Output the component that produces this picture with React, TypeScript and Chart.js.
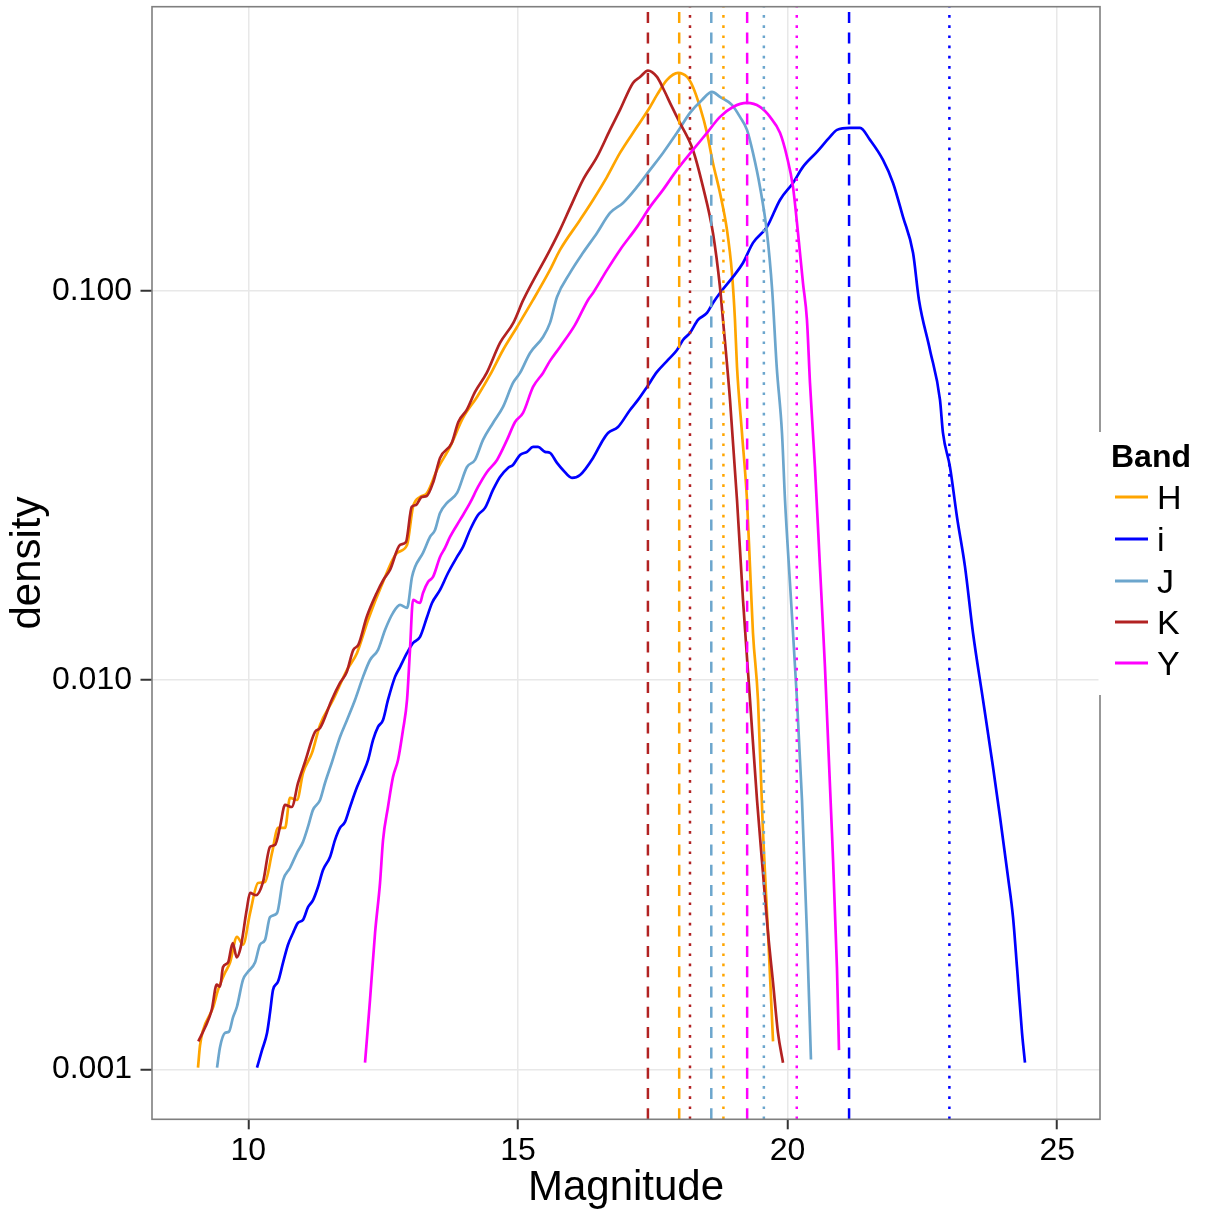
import React, { useEffect, useRef } from "react";
import { Chart, registerables } from "chart.js";

Chart.register(...registerables);

const FONT = "'Liberation Sans', Arial, Helvetica, sans-serif";

const bands = ["H", "i", "J", "K", "Y"];
const bandColors = ["#FFA500", "#0000FF", "#6CA6CD", "#B22222", "#FF00FF"];
// dashed and dotted reference marks per band (same order as bands)
const dashedMarks = [17.99, 21.14, 18.585, 17.41, 19.25];
const dottedMarks = [18.81, 23.0, 19.56, 18.19, 20.17];

const xTicks = [10, 15, 20, 25];
const yTicks = [0.001, 0.01, 0.1];
const yTickLabels = ["0.001", "0.010", "0.100"];
const xRange = [8.214, 25.793];
const yRange = [0.000744, 0.537];

const hCurve = [
  [9.067, 0.00101], [9.104, 0.00115], [9.16, 0.00126], [9.345, 0.00144], [9.439, 0.0016], [9.568, 0.00177],
  [9.661, 0.00188], [9.79, 0.00219], [9.902, 0.00209], [10.032, 0.00252], [10.18, 0.00301], [10.31, 0.00303],
  [10.44, 0.0036], [10.551, 0.00417], [10.681, 0.00417], [10.773, 0.00498], [10.903, 0.00492], [11.014, 0.00577],
  [11.181, 0.0065], [11.33, 0.00767], [11.571, 0.00889], [11.83, 0.01062], [12.016, 0.01174], [12.22, 0.01427],
  [12.498, 0.01787], [12.757, 0.02122], [12.943, 0.02224], [13.054, 0.02786], [13.184, 0.02954], [13.314, 0.03025],
  [13.499, 0.03466], [13.74, 0.03971], [13.981, 0.04715], [14.241, 0.05339], [14.482, 0.0608], [14.723, 0.07048],
  [14.983, 0.08077], [15.28, 0.09476], [15.594, 0.1132], [15.78, 0.1274], [16.151, 0.1521], [16.392, 0.1712],
  [16.652, 0.1963], [16.892, 0.2261], [17.208, 0.2638], [17.449, 0.2968], [17.578, 0.3187], [17.764, 0.3483],
  [17.968, 0.3631], [18.135, 0.3544], [18.245, 0.3341], [18.375, 0.2968], [18.505, 0.2546], [18.616, 0.2131],
  [18.746, 0.1785], [18.876, 0.1434], [18.968, 0.1112], [19.024, 0.0842], [19.062, 0.06375], [19.154, 0.04314],
  [19.247, 0.02902], [19.303, 0.01953], [19.358, 0.01321], [19.451, 0.00889], [19.544, 0.00405], [19.637, 0.00224],
  [19.73, 0.00118],
];

const iCurve = [
  [10.161, 0.00101], [10.254, 0.00112], [10.347, 0.00124], [10.403, 0.0014], [10.458, 0.0016], [10.551, 0.00168],
  [10.644, 0.00188], [10.736, 0.00209], [10.829, 0.00224], [10.922, 0.00238], [11.014, 0.00242], [11.107, 0.00261],
  [11.2, 0.00272], [11.292, 0.00294], [11.385, 0.00325], [11.515, 0.00351], [11.607, 0.00388], [11.7, 0.00417],
  [11.793, 0.00432], [11.886, 0.00472], [12.016, 0.00531], [12.127, 0.00577], [12.22, 0.00623], [12.313, 0.00702],
  [12.405, 0.00758], [12.498, 0.0079], [12.59, 0.00889], [12.72, 0.01019], [12.813, 0.0108], [12.943, 0.01174],
  [13.054, 0.01245], [13.184, 0.01291], [13.314, 0.01452], [13.406, 0.01578], [13.555, 0.01704], [13.703, 0.01884],
  [13.87, 0.02072], [13.981, 0.02198], [14.111, 0.0243], [14.259, 0.02656], [14.389, 0.02769], [14.537, 0.03079],
  [14.667, 0.03325], [14.815, 0.03508], [14.908, 0.0357], [15.038, 0.03789], [15.168, 0.03857], [15.28, 0.03971],
  [15.372, 0.03971], [15.502, 0.03857], [15.594, 0.03833], [15.724, 0.03613], [15.835, 0.03466], [16.002, 0.03306],
  [16.151, 0.03365], [16.392, 0.03722], [16.577, 0.0414], [16.67, 0.04314], [16.855, 0.04469], [17.078, 0.04943],
  [17.226, 0.05245], [17.393, 0.05664], [17.578, 0.06189], [17.782, 0.06646], [17.949, 0.07048], [18.06, 0.07479],
  [18.19, 0.07796], [18.338, 0.0842], [18.505, 0.08773], [18.616, 0.09309], [18.746, 0.09876], [18.987, 0.1086],
  [19.172, 0.1179], [19.358, 0.1328], [19.618, 0.146], [19.859, 0.1712], [20.1, 0.1893], [20.285, 0.2082],
  [20.545, 0.2275], [20.786, 0.2486], [20.916, 0.2591], [21.157, 0.2622], [21.343, 0.2622], [21.528, 0.2442],
  [21.769, 0.2169], [21.955, 0.1893], [22.14, 0.1548], [22.326, 0.1252], [22.436, 0.09476], [22.64, 0.07048],
  [22.826, 0.05245], [22.881, 0.04314], [23.011, 0.03528], [23.141, 0.02625], [23.29, 0.01953], [23.438, 0.01321],
  [23.624, 0.00889], [23.809, 0.00598], [23.939, 0.00445], [24.087, 0.00312], [24.18, 0.00246], [24.254, 0.00183],
  [24.347, 0.00124], [24.402, 0.00104],
];

const jCurve = [
  [9.42, 0.00101], [9.475, 0.00114], [9.568, 0.00124], [9.642, 0.00125], [9.716, 0.00136], [9.79, 0.00145],
  [9.902, 0.0017], [9.994, 0.00178], [10.124, 0.00188], [10.217, 0.00209], [10.31, 0.00215], [10.402, 0.00246],
  [10.532, 0.00252], [10.643, 0.00306], [10.773, 0.00329], [10.903, 0.0036], [11.014, 0.00384], [11.107, 0.0042],
  [11.199, 0.00464], [11.33, 0.00492], [11.422, 0.00544], [11.552, 0.00616], [11.7, 0.00714], [11.83, 0.0079],
  [11.978, 0.00889], [12.127, 0.01019], [12.257, 0.01126], [12.405, 0.01196], [12.535, 0.01345], [12.683, 0.01488],
  [12.813, 0.0156], [12.943, 0.01532], [13.035, 0.0184], [13.091, 0.01953], [13.239, 0.02122], [13.369, 0.02332],
  [13.462, 0.0243], [13.555, 0.02688], [13.684, 0.02851], [13.87, 0.03025], [14.055, 0.03528], [14.204, 0.03678],
  [14.352, 0.0414], [14.537, 0.04576], [14.723, 0.05032], [14.908, 0.058], [15.038, 0.06153], [15.224, 0.06924],
  [15.465, 0.07613], [15.594, 0.08273], [15.724, 0.09646], [15.965, 0.1112], [16.206, 0.1252], [16.466, 0.1408],
  [16.707, 0.1585], [16.948, 0.1682], [17.208, 0.1849], [17.449, 0.2045], [17.689, 0.2261], [17.949, 0.2546],
  [18.19, 0.2865], [18.412, 0.3094], [18.598, 0.3244], [18.746, 0.315], [18.968, 0.3004], [19.117, 0.2798],
  [19.247, 0.2591], [19.358, 0.2261], [19.488, 0.1849], [19.618, 0.1408], [19.714, 0.1005], [19.798, 0.06388],
  [19.896, 0.04314], [19.952, 0.02902], [20.044, 0.01776], [20.174, 0.00889], [20.267, 0.00492], [20.359, 0.00224],
  [20.433, 0.00106],
];

const kCurve = [
  [9.073, 0.00118], [9.197, 0.00128], [9.321, 0.00142], [9.414, 0.00165], [9.475, 0.00163], [9.531, 0.00183],
  [9.624, 0.00188], [9.711, 0.00211], [9.785, 0.00194], [9.859, 0.00206], [9.97, 0.00257], [10.032, 0.00284],
  [10.143, 0.0028], [10.273, 0.00303], [10.403, 0.00373], [10.496, 0.00377], [10.588, 0.0042], [10.681, 0.00478],
  [10.805, 0.00472], [10.922, 0.00544], [11.051, 0.00616], [11.237, 0.00736], [11.33, 0.00753], [11.546, 0.00889],
  [11.7, 0.00983], [11.825, 0.01049], [11.947, 0.01196], [12.04, 0.01231], [12.195, 0.01452], [12.381, 0.01674],
  [12.503, 0.01808], [12.627, 0.01918], [12.813, 0.02224], [12.924, 0.02264], [13.03, 0.02786], [13.11, 0.02818],
  [13.215, 0.02954], [13.308, 0.02972], [13.43, 0.03228], [13.555, 0.03722], [13.772, 0.04066], [13.894, 0.04604],
  [14.05, 0.04943], [14.204, 0.05498], [14.421, 0.06153], [14.667, 0.07346], [14.914, 0.08273], [15.099, 0.09476],
  [15.594, 0.1274], [15.78, 0.1434], [15.965, 0.1633], [16.206, 0.1928], [16.466, 0.2208], [16.707, 0.2591],
  [16.892, 0.2916], [17.133, 0.3421], [17.263, 0.3544], [17.411, 0.3679], [17.578, 0.3544], [17.689, 0.332],
  [17.856, 0.2968], [18.004, 0.27], [18.245, 0.2301], [18.431, 0.1849], [18.616, 0.1408], [18.746, 0.1023],
  [18.802, 0.0842], [18.932, 0.05245], [19.062, 0.02902], [19.173, 0.01607], [19.303, 0.00889], [19.433, 0.00492],
  [19.544, 0.00319], [19.637, 0.00224], [19.73, 0.00167], [19.822, 0.00124], [19.915, 0.00104],
];

const yCurve = [
  [12.164, 0.00104], [12.257, 0.00151], [12.35, 0.00224], [12.442, 0.00301], [12.498, 0.00388], [12.59, 0.00472],
  [12.683, 0.00564], [12.776, 0.00623], [12.868, 0.00744], [12.943, 0.00889], [12.998, 0.01196], [13.054, 0.01607],
  [13.128, 0.01588], [13.184, 0.01579], [13.239, 0.01674], [13.332, 0.01787], [13.425, 0.0184], [13.555, 0.02072],
  [13.647, 0.02185], [13.74, 0.02332], [13.926, 0.02579], [14.111, 0.02851], [14.259, 0.03134], [14.426, 0.03425],
  [14.612, 0.03678], [14.797, 0.0414], [14.946, 0.04604], [15.094, 0.04857], [15.28, 0.05664], [15.465, 0.06153],
  [15.594, 0.06607], [15.78, 0.07177], [16.058, 0.08176], [16.299, 0.09476], [16.392, 0.09876], [16.652, 0.1132],
  [16.892, 0.1274], [17.208, 0.146], [17.449, 0.1643], [17.689, 0.1817], [17.949, 0.2045], [18.245, 0.2301],
  [18.505, 0.2546], [18.746, 0.2798], [18.987, 0.2968], [19.247, 0.3039], [19.488, 0.2968], [19.674, 0.2798],
  [19.859, 0.2546], [19.989, 0.2208], [20.1, 0.1849], [20.193, 0.1408], [20.285, 0.1048], [20.359, 0.0842],
  [20.415, 0.058], [20.507, 0.03528], [20.6, 0.01953], [20.693, 0.0108], [20.823, 0.00405], [20.915, 0.00183],
  [20.953, 0.00112],
];

const curves = [hCurve, iCurve, jCurve, kCurve, yCurve];

const overlayPlugin = {
  id: "overlay",
  beforeDraw(chart: any) {
    const { ctx, width, height } = chart;
    ctx.save();
    ctx.fillStyle = "#FFFFFF";
    ctx.fillRect(0, 0, width, height);
    ctx.restore();
  },
  afterDatasetsDraw(chart: any) {
    const { ctx, chartArea } = chart;
    const xs = chart.scales.x;
    ctx.save();
    ctx.beginPath();
    ctx.rect(chartArea.left, chartArea.top, chartArea.right - chartArea.left, chartArea.bottom - chartArea.top);
    ctx.clip();
    ctx.lineWidth = 2.5;
    const drawSet = (marks: number[], dash: number[]) => {
      marks.forEach((v, k) => {
        const px = xs.getPixelForValue(v);
        ctx.strokeStyle = bandColors[k];
        ctx.setLineDash(dash);
        ctx.beginPath();
        ctx.moveTo(px, chartArea.bottom);
        ctx.lineTo(px, chartArea.top);
        ctx.stroke();
      });
    };
    drawSet(dashedMarks, [11, 9.3]);
    drawSet(dottedMarks, [2.7, 7.5]);
    ctx.restore();
  },
  afterDraw(chart: any) {
    const { ctx, chartArea } = chart;
    ctx.save();
    // panel border
    ctx.strokeStyle = "#7F7F7F";
    ctx.lineWidth = 1.6;
    ctx.strokeRect(chartArea.left, chartArea.top, chartArea.right - chartArea.left, chartArea.bottom - chartArea.top);
    // legend box
    ctx.fillStyle = "#FFFFFF";
    ctx.fillRect(chartArea.right - 1.5, 432, 1205 - chartArea.right + 1.5, 263);
    ctx.fillStyle = "#000000";
    ctx.font = `bold 32px ${FONT}`;
    ctx.textAlign = "left";
    ctx.textBaseline = "alphabetic";
    ctx.fillText("Band", 1111, 467);
    ctx.font = `34px ${FONT}`;
    const keyYs = [497, 539, 581, 622, 663];
    bands.forEach((b, k) => {
      const y = keyYs[k];
      ctx.strokeStyle = bandColors[k];
      ctx.lineWidth = 3;
      ctx.setLineDash([]);
      ctx.beginPath();
      ctx.moveTo(1115, y);
      ctx.lineTo(1148, y);
      ctx.stroke();
      ctx.fillStyle = "#000000";
      ctx.fillText(b, 1157, y + 12.3);
    });
    ctx.restore();
  },
};

export default function App() {
  const canvasRef = useRef<HTMLCanvasElement | null>(null);

  useEffect(() => {
    if (!canvasRef.current) return;
    Chart.defaults.font.family = FONT;
    const datasets = curves.map((c, k) => ({
      label: bands[k],
      data: c.map(([x, y]) => ({ x, y })),
      borderColor: bandColors[k],
      backgroundColor: bandColors[k],
      borderWidth: 2.7,
      pointRadius: 0,
      fill: false,
      tension: 0,
      cubicInterpolationMode: "monotone" as const,
      order: bands.length - 1 - k,
    }));

    const chart = new Chart(canvasRef.current, {
      type: "line",
      data: { datasets },
      plugins: [overlayPlugin],
      options: {
        animation: false,
        responsive: true,
        maintainAspectRatio: false,
        devicePixelRatio: 1,
        layout: { padding: { top: 6.7, right: 105, left: 0, bottom: 0 } },
        plugins: { legend: { display: false }, tooltip: { enabled: false } },
        scales: {
          x: {
            type: "linear",
            min: xRange[0],
            max: xRange[1],
            afterBuildTicks: (s: any) => {
              s.ticks = xTicks.map((v) => ({ value: v }));
            },
            afterFit: (s: any) => {
              s.height = 92.7;
              s.paddingLeft = 0;
              s.paddingRight = 0;
            },
            grid: {
              color: "#E8E8E8",
              lineWidth: 1.5,
              tickColor: "#333333",
              tickLength: 10,
              tickWidth: 2,
              drawTicks: true,
            },
            border: { display: false },
            ticks: {
              color: "#000000",
              font: { size: 32, family: FONT },
              padding: 3,
              maxRotation: 0,
              autoSkip: false,
              callback: (v: any) => String(v),
            },
            title: {
              display: true,
              text: "Magnitude",
              color: "#000000",
              font: { size: 42, family: FONT, lineHeight: 1.1 },
              padding: { top: 0, bottom: 0 },
            },
          },
          y: {
            type: "logarithmic",
            min: yRange[0],
            max: yRange[1],
            afterBuildTicks: (s: any) => {
              s.ticks = yTicks.map((v) => ({ value: v }));
            },
            afterFit: (s: any) => {
              s.width = 152;
              s.paddingTop = 0;
              s.paddingBottom = 0;
            },
            grid: {
              color: "#E8E8E8",
              lineWidth: 1.5,
              tickColor: "#333333",
              tickLength: 11.5,
              tickWidth: 2,
              drawTicks: true,
            },
            border: { display: false },
            ticks: {
              color: "#000000",
              font: { size: 32, family: FONT },
              padding: 8.5,
              autoSkip: false,
              callback: (_v: any, idx: number) => yTickLabels[idx],
            },
            title: {
              display: true,
              text: "density",
              color: "#000000",
              font: { size: 42, family: FONT },
              padding: { top: 3, bottom: 0 },
            },
          },
        },
      },
    });
    return () => chart.destroy();
  }, []);

  return (
    <div style={{ position: "fixed", left: 0, top: 0, width: 1205, height: 1212, background: "#fff" }}>
      <canvas ref={canvasRef} />
    </div>
  );
}
